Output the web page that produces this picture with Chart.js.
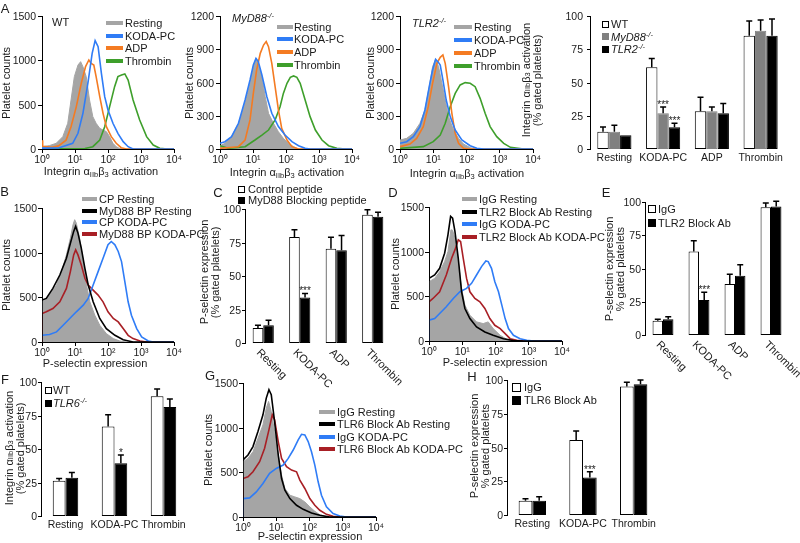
<!DOCTYPE html>
<html>
<head>
<meta charset="utf-8">
<title>Platelet activation panels</title>
<script src="https://cdn.jsdelivr.net/npm/chart.js@4.4.1/dist/chart.umd.min.js"></script>
<style>
  html, body { margin: 0; padding: 0; background: #fff; }
  #page { position: relative; width: 800px; height: 543px; overflow: hidden; isolation: isolate;
          font-family: "Liberation Sans", Arial, sans-serif; color: #1a1a1a; }
  #page canvas { position: absolute; z-index: 1; }
  #overlay { position: absolute; left: 0; top: 0; width: 800px; height: 543px; z-index: 5; will-change: transform; }
  #ticks { position: absolute; left: 0; top: 0; width: 800px; height: 543px; z-index: 20; will-change: transform; }
  .t { position: absolute; white-space: nowrap; font-size: 11px; line-height: 11px; }
  .c { transform: translate(-50%, -50%); }
  .l { transform: translate(0, -50%); }
  .r { transform: translate(-100%, -50%); font-size: 10.5px; }
  .v { writing-mode: vertical-rl; transform: translate(-50%, -50%) rotate(180deg); text-align: center; }
  .letter { font-size: 13px; }
  .sw { position: absolute; box-sizing: border-box; }
  sub { font-size: 7.5px; vertical-align: -2px; line-height: 0; }
  sup { font-size: 7.5px; vertical-align: 4px; line-height: 0; }
</style>
</head>
<body>
<div id="page"><div id="overlay"></div><div id="ticks"></div></div>
<script>
// ---- histogram data: [decade (log10 of fluorescence), platelet count] ----
const a1Resting = [[0,26],[0.22,38],[0.43,64],[0.63,139],[0.78,290],[0.88,553],[0.98,816],[1.09,947],[1.17,985],[1.24,929],[1.34,816],[1.44,553],[1.54,365],[1.64,290],[1.75,233],[1.85,214],[1.95,196],[2.05,139],[2.15,64],[2.25,26],[2.36,4],[2.5,0],[4,0]];
const a1Koda = [[0,10],[0.5,12],[0.93,64],[1.09,177],[1.24,402],[1.39,741],[1.52,1079],[1.61,1222],[1.7,1154],[1.8,853],[1.9,590],[2.0,440],[2.15,290],[2.3,177],[2.46,83],[2.61,26],[2.76,0],[4,0]];
const a1Adp = [[0,100],[0.02,30],[0.3,20],[0.5,35],[0.73,100],[0.88,252],[1.04,478],[1.19,741],[1.32,929],[1.42,1004],[1.49,966],[1.57,947],[1.64,816],[1.75,590],[1.85,402],[1.95,252],[2.1,139],[2.25,64],[2.4,15],[2.56,0],[4,0]];
const a1Thrombin = [[0,0],[1.3,5],[1.54,26],[1.75,100],[1.9,252],[2.05,478],[2.2,703],[2.3,816],[2.41,835],[2.51,846],[2.61,778],[2.76,553],[2.96,327],[3.17,139],[3.37,45],[3.57,8],[3.8,0],[4,0]];

const a2Resting = [[0,30],[0.15,51],[0.35,111],[0.56,232],[0.76,412],[0.91,593],[1.01,743],[1.09,818],[1.16,773],[1.27,653],[1.37,472],[1.47,322],[1.62,232],[1.77,156],[1.92,96],[2.08,51],[2.23,21],[2.38,0],[4,0]];
const a2Koda = [[0,51],[0.15,66],[0.35,111],[0.56,232],[0.76,442],[0.91,623],[1.01,758],[1.09,818],[1.16,788],[1.27,668],[1.42,472],[1.57,322],[1.77,202],[1.97,126],[2.18,66],[2.38,30],[2.58,6],[2.73,0],[4,0]];
const a2Adp = [[0,6],[0.56,21],[0.76,81],[0.91,262],[1.01,502],[1.11,713],[1.22,863],[1.32,938],[1.4,969],[1.47,923],[1.57,773],[1.67,562],[1.77,352],[1.87,186],[2.03,81],[2.18,21],[2.38,0],[4,0]];
const a2Thrombin = [[0,30],[0.25,6],[0.76,21],[1.06,81],[1.27,126],[1.47,171],[1.67,262],[1.82,382],[1.92,502],[2.03,593],[2.13,647],[2.23,659],[2.33,647],[2.43,593],[2.58,442],[2.73,292],[2.89,171],[3.09,81],[3.29,30],[3.54,6],[3.8,0],[4,0]];

const a3Resting = [[0,81],[0.2,96],[0.4,141],[0.6,232],[0.75,352],[0.88,562],[0.98,743],[1.07,809],[1.16,743],[1.26,593],[1.36,442],[1.46,292],[1.61,171],[1.76,96],[1.91,45],[2.11,12],[2.26,0],[4,0]];
const a3Koda = [[0,51],[0.2,66],[0.4,111],[0.6,202],[0.75,352],[0.88,562],[0.98,713],[1.07,809],[1.14,788],[1.21,758],[1.29,623],[1.39,442],[1.51,292],[1.66,171],[1.86,81],[2.11,30],[2.31,6],[2.51,0],[4,0]];
const a3Adp = [[0,21],[0.3,45],[0.5,96],[0.7,202],[0.85,382],[0.98,593],[1.11,773],[1.21,827],[1.29,848],[1.36,773],[1.46,562],[1.56,322],[1.66,141],[1.76,51],[1.91,6],[2.06,0],[4,0]];
const a3Thrombin = [[0,6],[0.7,21],[1.0,66],[1.21,126],[1.36,232],[1.51,382],[1.66,502],[1.81,578],[1.96,599],[2.11,593],[2.26,562],[2.41,457],[2.56,322],[2.71,202],[2.91,111],[3.12,51],[3.32,15],[3.72,0],[4,0]];

const bCpResting = [[0,450],[0.08,469],[0.23,525],[0.44,638],[0.59,788],[0.74,975],[0.86,1163],[0.94,1313],[0.99,1369],[1.04,1331],[1.14,1163],[1.25,900],[1.35,638],[1.45,450],[1.6,300],[1.75,188],[1.95,94],[2.16,38],[2.36,11],[2.56,0],[4,0]];
const bBpResting = [[0,0],[0,469],[0.13,488],[0.33,600],[0.54,750],[0.74,938],[0.86,1106],[0.96,1238],[1.02,1294],[1.09,1219],[1.19,1050],[1.3,825],[1.4,638],[1.55,450],[1.75,263],[1.95,150],[2.21,75],[2.46,26],[2.76,0],[4,0]];
const bCpKoda = [[0,75],[0.23,83],[0.44,113],[0.64,188],[0.84,263],[1.04,338],[1.25,413],[1.4,488],[1.55,638],[1.7,788],[1.85,938],[2.0,1088],[2.1,1125],[2.21,1088],[2.31,1013],[2.41,900],[2.51,675],[2.61,450],[2.71,300],[2.87,150],[3.02,56],[3.22,11],[3.37,0],[4,0]];
const bBpKoda = [[0,0],[0,319],[0.13,338],[0.33,375],[0.54,450],[0.74,600],[0.86,788],[0.96,975],[1.02,1031],[1.09,975],[1.19,863],[1.3,713],[1.4,638],[1.55,581],[1.7,525],[1.85,450],[2.0,338],[2.16,263],[2.31,225],[2.46,150],[2.61,75],[2.76,38],[2.97,11],[3.17,0],[4,0]];

const dIgGResting = [[0,664],[0.17,701],[0.32,776],[0.47,889],[0.57,1001],[0.66,1245],[0.71,1240],[0.78,1151],[0.88,889],[0.98,589],[1.08,401],[1.23,289],[1.43,214],[1.63,195],[1.78,214],[1.93,139],[2.14,64],[2.34,19],[2.54,0],[4,0]];
const dAbResting = [[0,0],[0,701],[0.17,739],[0.32,814],[0.47,983],[0.57,1189],[0.65,1395],[0.71,1376],[0.78,1226],[0.88,926],[0.98,551],[1.08,364],[1.23,251],[1.43,158],[1.68,101],[1.93,64],[2.24,26],[2.54,4],[2.84,0],[4,0]];
const dIgGKoda = [[0,0],[0,233],[0.17,251],[0.32,308],[0.52,383],[0.73,476],[0.93,551],[1.13,589],[1.28,645],[1.43,739],[1.58,833],[1.71,896],[1.78,889],[1.88,814],[1.98,664],[2.09,551],[2.19,401],[2.29,251],[2.39,139],[2.54,64],[2.74,26],[2.94,8],[3.14,0],[4,0]];
const dAbKoda = [[0,0],[0,439],[0.12,476],[0.32,551],[0.52,739],[0.68,926],[0.78,1020],[0.88,1133],[0.95,1114],[1.03,926],[1.13,701],[1.23,551],[1.38,476],[1.53,439],[1.68,364],[1.83,251],[1.98,176],[2.14,139],[2.29,83],[2.44,26],[2.64,8],[2.84,0],[4,0]];

const gIgGResting = [[0,619],[0.15,656],[0.3,731],[0.45,881],[0.6,1031],[0.7,1219],[0.77,1294],[0.85,1181],[0.95,956],[1.06,694],[1.16,469],[1.26,319],[1.41,244],[1.56,225],[1.71,206],[1.86,169],[2.01,113],[2.16,64],[2.31,26],[2.51,0],[4,0]];
const gAbResting = [[0,0],[0,638],[0.15,694],[0.3,788],[0.45,956],[0.6,1144],[0.7,1331],[0.78,1425],[0.85,1369],[0.95,1069],[1.06,694],[1.16,431],[1.26,300],[1.41,206],[1.61,131],[1.81,86],[2.06,45],[2.31,19],[2.61,0],[4,0]];
const gIgGKoda = [[0,0],[0,206],[0.2,214],[0.4,281],[0.6,375],[0.8,488],[1.0,544],[1.21,581],[1.36,656],[1.51,750],[1.66,863],[1.76,926],[1.86,919],[1.96,844],[2.06,731],[2.16,581],[2.26,394],[2.36,244],[2.51,113],[2.71,38],[2.91,11],[3.11,0],[4,0]];
const gAbKoda = [[0,0],[0,431],[0.15,450],[0.3,506],[0.5,619],[0.65,769],[0.78,975],[0.88,1144],[0.95,1088],[1.06,844],[1.16,656],[1.31,563],[1.46,525],[1.61,506],[1.71,413],[1.86,319],[2.01,206],[2.16,131],[2.31,75],[2.51,30],[2.71,8],[2.91,0],[4,0]];

// ---- bar data (% gated platelets), error = upper SEM ----
const a4Cats = ['Resting', 'KODA-PC', 'ADP', 'Thrombin'];
const a4Wt = [13, 61.4, 28.3, 85.2];
const a4WtErr = [3.5, 6.6, 10.7, 11];
const a4MyD88 = [13, 26.8, 28.3, 89];
const a4MyD88Err = [4.8, 4.8, 3.3, 8];
const a4Tlr2 = [10.3, 16.3, 26.8, 85.2];
const a4Tlr2Err = [0, 3, 7.5, 12.5];
const a4MyD88Sig = ['', '***', '', ''];
const a4Tlr2Sig = ['', '***', '', ''];

const cCats = ['Resting', 'KODA-PC', 'ADP', 'Thrombin'];
const cControl = [11.2, 79.1, 70.4, 95.8];
const cControlErr = [2, 5.5, 8.5, 3.7];
const cBlocking = [13.2, 34, 69.2, 94.3];
const cBlockingErr = [3.7, 3, 11, 3.2];
const cBlockingSig = ['', '***', '', ''];

const eCats = ['Resting', 'KODA-PC', 'ADP', 'Thrombin'];
const eIgG = [10.8, 62.8, 38.4, 96];
const eIgGErr = [1, 8.1, 7.3, 3.2];
const eTlr2Ab = [11.8, 26.4, 44.5, 96.7];
const eTlr2AbErr = [2, 5.8, 8.3, 3.8];
const eTlr2AbSig = ['', '***', '', ''];

const fCats = ['Resting', 'KODA-PC', 'Thrombin'];
const fWt = [26.3, 66.8, 89.3];
const fWtErr = [1.7, 8.7, 5.5];
const fTlr6 = [28.5, 39.3, 81.3];
const fTlr6Err = [4, 6.2, 6];
const fTlr6Sig = ['', '*', ''];

const hCats = ['Resting', 'KODA-PC', 'Thrombin'];
const hIgG = [10.6, 55.6, 95.1];
const hIgGErr = [1.5, 6.6, 3.2];
const hTlr6Ab = [10.6, 27.7, 96.8];
const hTlr6AbErr = [3, 4.4, 3.2];
const hTlr6AbSig = ['', '***', ''];

// ---- tick labels ----
const decadeLabels = ['10\u2070', '10\u00b9', '10\u00b2', '10\u00b3', '10\u2074'];
const countTicks1500 = [0, 500, 1000, 1500];
const countTicks1200 = [0, 300, 600, 900, 1200];
const percentTicks = [0, 25, 50, 75, 100];

// ---- styling ----
const GREY = '#a5a5a5', BLUE = '#2f7cf6', ORANGE = '#f47b22', GREEN = '#3e9f2b', RED = '#a81f25', BLACK = '#000';
const FAMILY = '"Liberation Sans", Arial, sans-serif';
const TICK_FONT = { family: FAMILY, size: 10.5 };
const TEXT = '#1a1a1a';

const page = document.getElementById('page');
const overlay = document.getElementById('overlay');
const tickLayer = document.getElementById('ticks');

function fmt(s) {
  const m = s.match(/^(.*)-\/-$/);
  return m ? `<i>${m[1]}<sup>-/-</sup></i>` : s;
}

function text(html, x, y, cls, layer) {
  const d = document.createElement('div');
  d.className = 't ' + (cls || '');
  d.innerHTML = html;
  d.style.left = x + 'px';
  d.style.top = y + 'px';
  (layer || overlay).appendChild(d);
  return d;
}

function addCanvas(plot, box) {
  const c = document.createElement('canvas');
  const w = plot.r - plot.l + box.yw + box.pl + box.pr;
  const h = plot.b - plot.t + box.xh + box.pt + box.pb;
  c.width = w;
  c.height = h;
  c.style.left = (plot.l - box.yw - box.pl) + 'px';
  c.style.top = (plot.t - box.pt) + 'px';
  c.style.width = w + 'px';
  c.style.height = h + 'px';
  page.insertBefore(c, overlay);
  return c;
}

function yAxis(max, width) {
  return {
    min: 0, max: max,
    border: { display: true, color: '#000', width: 1 },
    grid: { display: false },
    ticks: { display: false },
    afterFit: s => { s.width = width; }
  };
}

// outward tick marks on the y axis, at the given values
function yMarks(values, len) {
  return {
    id: 'yMarks',
    afterDraw(chart) {
      const ys = chart.scales.y, ctx = chart.ctx;
      ctx.save();
      ctx.strokeStyle = '#000';
      ctx.lineWidth = 1;
      ctx.beginPath();
      values.forEach(v => {
        const y = Math.round(ys.getPixelForValue(v)) + 0.5;
        ctx.moveTo(ys.right - len, y);
        ctx.lineTo(ys.right, y);
      });
      ctx.stroke();
      ctx.restore();
    }
  };
}

// y value labels, placed from the chart's own y scale
function yTickLabels(chart, canvas, values, gap) {
  const ys = chart.scales.y;
  const left = parseFloat(canvas.style.left), top = parseFloat(canvas.style.top);
  values.forEach(v => text(String(v), left + ys.right - gap, top + ys.getPixelForValue(v), 'r', tickLayer));
}

// upward error bars + significance stars on top of each bar
const errorBars = {
  id: 'errorBars',
  afterDatasetsDraw(chart) {
    const ctx = chart.ctx, ys = chart.scales.y;
    chart.data.datasets.forEach((ds, i) => {
      const meta = chart.getDatasetMeta(i);
      meta.data.forEach((bar, j) => {
        const err = ds.errs ? ds.errs[j] : 0;
        const top = ys.getPixelForValue(ds.data[j] + err);
        ctx.save();
        if (err > 0) {
          ctx.strokeStyle = '#000';
          ctx.lineWidth = 1.5;
          ctx.beginPath();
          ctx.moveTo(bar.x, bar.y);
          ctx.lineTo(bar.x, top);
          ctx.moveTo(bar.x - 3, top);
          ctx.lineTo(bar.x + 3, top);
          ctx.stroke();
        }
        if (ds.sig && ds.sig[j]) {
          ctx.fillStyle = TEXT;
          ctx.font = '10px ' + FAMILY;
          ctx.textAlign = 'center';
          ctx.textBaseline = 'alphabetic';
          ctx.fillText(ds.sig[j], bar.x, top + 1);
        }
        ctx.restore();
      });
    });
  }
};

// category names slanted down to the right (panels C and E)
const slantLabels = {
  id: 'slantLabels',
  afterDraw(chart) {
    const ctx = chart.ctx, xs = chart.scales.x, bottom = chart.chartArea.bottom;
    ctx.save();
    ctx.font = '11px ' + FAMILY;
    ctx.fillStyle = TEXT;
    ctx.textAlign = 'left';
    ctx.textBaseline = 'middle';
    chart.data.labels.forEach((lab, i) => {
      const x = xs.getPixelForTick(i);
      ctx.save();
      ctx.translate(x - 5, bottom + 8);
      ctx.rotate(Math.PI / 4);
      ctx.fillText(lab, 0, 0);
      ctx.restore();
    });
    ctx.restore();
  }
};

function histogram(plot, yMax, yTicks, series, legend, gap) {
  const box = { yw: 34, xh: 22, pl: 2, pt: 8, pr: 12, pb: 2 };
  const canvas = addCanvas(plot, box);
  const chart = new Chart(canvas, {
    type: 'line',
    data: {
      datasets: series.map(s => ({
        label: s.label,
        data: s.data.map(p => ({ x: p[0], y: p[1] })),
        borderColor: s.color,
        backgroundColor: s.fill ? s.color : 'transparent',
        fill: s.fill ? 'origin' : false,
        borderWidth: s.fill ? 1 : 1.6,
        pointRadius: 0,
        tension: 0,
        order: s.fill ? 9 : 0
      }))
    },
    options: {
      responsive: false, animation: false, devicePixelRatio: 1,
      layout: { padding: { left: box.pl, top: box.pt, right: box.pr, bottom: box.pb } },
      plugins: { legend: { display: false }, tooltip: { enabled: false } },
      scales: {
        x: {
          type: 'linear', min: 0, max: 4,
          border: { display: true, color: '#000', width: 1 },
          grid: { display: true, drawOnChartArea: false, tickLength: 4, color: '#000' },
          ticks: { stepSize: 1, padding: 1, color: TEXT, font: TICK_FONT, maxRotation: 0, autoSkip: false,
                   callback: v => decadeLabels[v] },
          afterFit: s => { s.height = box.xh; }
        },
        y: yAxis(yMax, box.yw)
      }
    },
    plugins: [yMarks(yTicks, 4)]
  });
  yTickLabels(chart, canvas, yTicks, gap);
  // legend with thick line swatches
  series.forEach((s, i) => {
    const y = legend.y0 + i * legend.dy;
    const sw = document.createElement('div');
    sw.className = 'sw';
    Object.assign(sw.style, { left: legend.sx + 'px', top: (y - 2) + 'px', width: legend.sw + 'px',
                              height: '4px', background: s.color });
    overlay.appendChild(sw);
    text(fmt(s.label), legend.tx, y, 'l');
  });
}

function barChart(plot, cats, sets, cp, slant, legend, gap) {
  // canvas starts at the axis so the value labels sit outside it
  const box = { yw: 4, xh: slant ? 44 : 24, pl: 0, pt: 8, pr: 12, pb: 2 };
  const canvas = addCanvas(plot, box);
  const chart = new Chart(canvas, {
    type: 'bar',
    data: {
      labels: cats,
      datasets: sets.map(s => ({
        label: s.label, data: s.values, errs: s.errs, sig: s.sig,
        backgroundColor: s.bg, borderColor: s.line, borderWidth: 1, borderSkipped: false,
        barPercentage: 1, categoryPercentage: cp
      }))
    },
    options: {
      responsive: false, animation: false, devicePixelRatio: 1,
      layout: { padding: { left: box.pl, top: box.pt, right: box.pr, bottom: box.pb } },
      plugins: { legend: { display: false }, tooltip: { enabled: false } },
      scales: {
        x: {
          grid: { display: false, drawTicks: false }, border: { display: false },
          ticks: { display: !slant, color: TEXT, font: { family: FAMILY, size: 10.5 }, padding: 3,
                   maxRotation: 0, autoSkip: false },
          afterFit: s => { s.height = box.xh; }
        },
        y: yAxis(100, box.yw)
      }
    },
    plugins: slant ? [errorBars, slantLabels, yMarks(percentTicks, 3)] : [errorBars, yMarks(percentTicks, 3)]
  });
  yTickLabels(chart, canvas, percentTicks, gap);
  sets.forEach((s, i) => {
    const y = legend.y0 + i * legend.dy;
    const sw = document.createElement('div');
    sw.className = 'sw';
    Object.assign(sw.style, { left: legend.sx + 'px', top: (y - legend.size / 2) + 'px',
                              width: legend.size + 'px', height: legend.size + 'px',
                              background: s.bg, border: '1px solid ' + s.line });
    overlay.appendChild(sw);
    text(fmt(s.label), legend.tx, y, 'l');
  });
}

// ---- panel A ----
histogram({ l: 42, t: 16, r: 174, b: 149 }, 1500, countTicks1500, [
  { label: 'Resting', data: a1Resting, color: GREY, fill: true },
  { label: 'KODA-PC', data: a1Koda, color: BLUE },
  { label: 'ADP', data: a1Adp, color: ORANGE },
  { label: 'Thrombin', data: a1Thrombin, color: GREEN }
], { sx: 106, sw: 17, tx: 125, y0: 23, dy: 12.5 }, 6);

histogram({ l: 220, t: 16, r: 352, b: 149 }, 1200, countTicks1200, [
  { label: 'Resting', data: a2Resting, color: GREY, fill: true },
  { label: 'KODA-PC', data: a2Koda, color: BLUE },
  { label: 'ADP', data: a2Adp, color: ORANGE },
  { label: 'Thrombin', data: a2Thrombin, color: GREEN }
], { sx: 277, sw: 16, tx: 294, y0: 26.5, dy: 12.8 }, 6);

histogram({ l: 400, t: 16, r: 533, b: 149 }, 1200, countTicks1200, [
  { label: 'Resting', data: a3Resting, color: GREY, fill: true },
  { label: 'KODA-PC', data: a3Koda, color: BLUE },
  { label: 'ADP', data: a3Adp, color: ORANGE },
  { label: 'Thrombin', data: a3Thrombin, color: GREEN }
], { sx: 454, sw: 18, tx: 474, y0: 26.5, dy: 13 }, 6);

barChart({ l: 590, t: 16, r: 785, b: 149 }, a4Cats, [
  { label: 'WT', values: a4Wt, errs: a4WtErr, bg: '#fff', line: '#000' },
  { label: 'MyD88-/-', values: a4MyD88, errs: a4MyD88Err, sig: a4MyD88Sig, bg: '#808080', line: '#808080' },
  { label: 'TLR2-/-', values: a4Tlr2, errs: a4Tlr2Err, sig: a4Tlr2Sig, bg: '#000', line: '#000' }
], 0.7, false, { sx: 602, size: 7, tx: 611, y0: 24, dy: 12.7 }, 7);

// ---- panel B, D, G histograms ----
histogram({ l: 42, t: 208, r: 174, b: 342 }, 1500, countTicks1500, [
  { label: 'CP Resting', data: bCpResting, color: GREY, fill: true },
  { label: 'MyD88 BP Resting', data: bBpResting, color: BLACK },
  { label: 'CP KODA-PC', data: bCpKoda, color: BLUE },
  { label: 'MyD88 BP KODA-PC', data: bBpKoda, color: RED }
], { sx: 82, sw: 15, tx: 99, y0: 199, dy: 11.5 }, 5);

histogram({ l: 429, t: 207, r: 562, b: 341 }, 1500, countTicks1500, [
  { label: 'IgG Resting', data: dIgGResting, color: GREY, fill: true },
  { label: 'TLR2 Block Ab Resting', data: dAbResting, color: BLACK },
  { label: 'IgG KODA-PC', data: dIgGKoda, color: BLUE },
  { label: 'TLR2 Block Ab KODA-PC', data: dAbKoda, color: RED }
], { sx: 462, sw: 15, tx: 479, y0: 199, dy: 12.5 }, 5);

histogram({ l: 243, t: 383, r: 376, b: 517 }, 1500, countTicks1500, [
  { label: 'IgG Resting', data: gIgGResting, color: GREY, fill: true },
  { label: 'TLR6 Block Ab Resting', data: gAbResting, color: BLACK },
  { label: 'IgG KODA-PC', data: gIgGKoda, color: BLUE },
  { label: 'TLR6 Block Ab KODA-PC', data: gAbKoda, color: RED }
], { sx: 319, sw: 16, tx: 337, y0: 411.5, dy: 12.6 }, 5);

// ---- panel C, E, F, H bars ----
barChart({ l: 245, t: 209, r: 391, b: 343 }, cCats, [
  { label: 'Control peptide', values: cControl, errs: cControlErr, bg: '#fff', line: '#000' },
  { label: 'MyD88 Blocking peptide', values: cBlocking, errs: cBlockingErr, sig: cBlockingSig, bg: '#000', line: '#000' }
], 0.58, true, { sx: 238, size: 7, tx: 248, y0: 189, dy: 11 }, 4);

barChart({ l: 645, t: 202, r: 789, b: 335 }, eCats, [
  { label: 'IgG', values: eIgG, errs: eIgGErr, bg: '#fff', line: '#000' },
  { label: 'TLR2 Block Ab', values: eTlr2Ab, errs: eTlr2AbErr, sig: eTlr2AbSig, bg: '#000', line: '#000' }
], 0.58, true, { sx: 648, size: 8, tx: 658, y0: 209, dy: 13.5 }, 4);

barChart({ l: 41, t: 382, r: 188, b: 516 }, fCats, [
  { label: 'WT', values: fWt, errs: fWtErr, bg: '#fff', line: '#000' },
  { label: 'TLR6-/-', values: fTlr6, errs: fTlr6Err, sig: fTlr6Sig, bg: '#000', line: '#000' }
], 0.52, false, { sx: 45, size: 7, tx: 53, y0: 390, dy: 13.3 }, 4);

barChart({ l: 507, t: 380, r: 659, b: 515 }, hCats, [
  { label: 'IgG', values: hIgG, errs: hIgGErr, bg: '#fff', line: '#000' },
  { label: 'TLR6 Block Ab', values: hTlr6Ab, errs: hTlr6AbErr, sig: hTlr6AbSig, bg: '#000', line: '#000' }
], 0.54, false, { sx: 512, size: 9, tx: 524, y0: 387, dy: 13 }, 4);

// ---- panel letters, titles, axis names ----
const integrin = 'Integrin &alpha;<sub>IIb</sub>&beta;<sub>3</sub> activation';
[['A', 5, 7.5], ['B', 4.5, 191], ['C', 218, 192], ['D', 393, 192], ['E', 606, 192],
 ['F', 5, 379], ['G', 210, 375], ['H', 472, 376]].forEach(p => text(p[0], p[1], p[2], 'c letter'));

text('WT', 52, 22, 'l');
text('<i>MyD88<sup>-/-</sup></i>', 232, 17.5, 'l');
text('<i>TLR2<sup>-/-</sup></i>', 412, 22.5, 'l');

text(integrin, 101, 170.5, 'c');
text(integrin, 287, 172, 'c');
text(integrin, 467, 173, 'c');
text('P-selectin expression', 95, 363, 'c');
text('P-selectin expression', 495, 362, 'c');
text('P-selectin expression', 310, 536, 'c');

text('Platelet counts', 6, 83, 'v');
text('Platelet counts', 189, 83, 'v');
text('Platelet counts', 370, 83, 'v');
text('Platelet counts', 6, 275, 'v');
text('Platelet counts', 395, 274, 'v');
text('Platelet counts', 208, 450, 'v');

text(integrin + '<br>(% gated platelets)', 532, 80, 'v');
text('P-selectin expression<br>(% gated platelets)', 209.5, 272, 'v');
text('P-selectin expression<br>% gated platelets', 615, 269, 'v');
text(integrin + '<br>(% gated platelets)', 14.5, 448, 'v');
text('P-selectin expression<br>% gated platelets', 480, 446, 'v');
</script>
</body>
</html>
